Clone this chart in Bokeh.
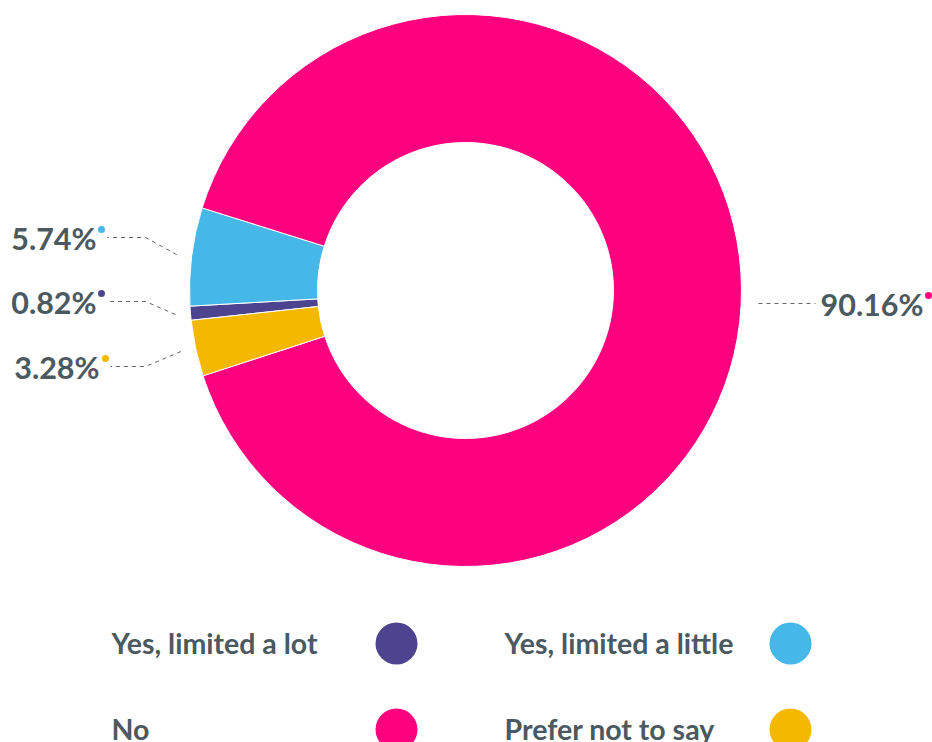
import math
from bokeh.plotting import figure
from bokeh.models import Range1d, ColumnDataSource
from bokeh.core.properties import value
from bokeh.embed import file_html
from bokeh.resources import INLINE

# ---- data ----
categories = ["Yes, limited a lot", "Yes, limited a little", "No", "Prefer not to say"]
values = [0.82, 5.74, 90.16, 3.28]
pct_labels = ["0.82%", "5.74%", "90.16%", "3.28%"]
colors = ["#4d448f", "#46b8e8", "#fe017f", "#f5b800"]

# ---- layout ----
W, H = 932, 742
TEXT = "#4b5961"
LINE = "#5f686e"
FONT = value("Lato")

def Y(py):  # picture y -> data y
    return H - py

cx, cy = 465, Y(290)
r_out, r_in = 276, 148
start = math.radians(186.2)

p = figure(width=W, height=H, output_backend="svg", toolbar_location=None,
           x_range=Range1d(0, W), y_range=Range1d(0, H),
           min_border=0)
p.axis.visible = False
p.grid.visible = False
p.outline_line_color = None
p.background_fill_color = "white"

total = sum(values)
cum = 0.0
starts, ends, mids = [], [], []
for v in values:
    a0 = start - 2 * math.pi * cum / total
    cum += v
    a1 = start - 2 * math.pi * cum / total
    starts.append(a1)
    ends.append(a0)
    mids.append((a0 + a1) / 2)

src = ColumnDataSource(dict(x=[cx] * 4, y=[cy] * 4, s=starts, e=ends, c=colors))
p.annular_wedge(x="x", y="y", inner_radius=r_in, outer_radius=r_out,
                start_angle="s", end_angle="e", direction="anticlock",
                fill_color="c", line_color="white", line_width=1, source=src)

# data labels with connectors
row_y = [301, 237, 303, 366]          # picture y of connector rows
text_right = [96, 96, None, 99]
dot_x = [101, 101, 928, 105]
xs_l, ys_l = [], []
tx, ty, ta, tt = [], [], [], []
for i, m in enumerate(mids):
    ax = cx + (r_out + 15) * math.cos(m)
    ay = cy + (r_out + 15) * math.sin(m)
    ry = Y(row_y[i])
    if math.cos(m) > 0:
        xs_l.append([ax + 2, ax + 59])
        ys_l.append([ry, ry])
        tx.append(ax + 64); ta.append("left")
    else:
        xs_l.append([ax, 145, text_right[i] + 11])
        ys_l.append([ay, ry, ry])
        tx.append(text_right[i]); ta.append("right")
    ty.append(ry)
    tt.append(pct_labels[i])

p.multi_line(xs=xs_l, ys=ys_l, line_color=LINE, line_width=1, line_dash="4 4")
p.text(x=tx, y=ty, text=tt, text_align=ta, text_baseline="middle",
       text_font=FONT, text_font_style="bold", text_font_size="30.5px", text_color=TEXT)
p.scatter(x=dot_x, y=[Y(r) + 8 for r in row_y], size=7, color=colors, line_color=None)

# legend
col_text_x = [111, 504]
col_dot_x = [396, 790]
rows = [643, 729]
lx, ly, lt, dx, dy = [], [], [], [], []
for i, cat in enumerate(categories):
    r, c = divmod(i, 2)
    lx.append(col_text_x[c]); ly.append(Y(rows[r]) + 1); lt.append(cat)
    dx.append(col_dot_x[c]); dy.append(Y(rows[r]))
p.text(x=lx, y=ly, text=lt, text_align="left", text_baseline="middle",
       text_font=FONT, text_font_style="bold", text_font_size="28.5px", text_color=TEXT)
p.circle(x=dx, y=dy, radius=21, fill_color=colors, line_color=None)

open("out.html", "w").write(file_html(p, INLINE))
